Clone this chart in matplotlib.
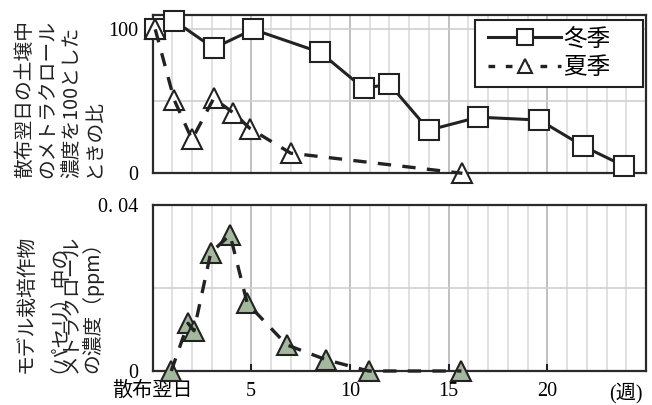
import matplotlib
matplotlib.use("Agg")
import matplotlib.pyplot as plt
from matplotlib.lines import Line2D
from matplotlib.patches import Rectangle

plt.rcParams['font.family'] = ['Noto Sans CJK JP', 'DejaVu Sans']

# ---- data ----
winter_x = [0.14, 1.1, 3.1, 5.1, 8.5, 10.7, 12.0, 14.0, 16.5, 19.6, 21.8, 23.9]
winter_y = [100, 106, 87, 100, 84, 59, 62, 30, 39, 37, 19, 5]
summer_x = [0.14, 1.1, 2.0, 3.1, 4.1, 4.95, 7.0, 15.7]
summer_y = [100, 51, 23.5, 52, 42, 31, 14, 0]
crop_x = [0.95, 1.8, 2.1, 2.95, 3.93, 4.8, 6.8, 8.8, 10.95, 15.65]
crop_y = [0.0, 0.0115, 0.0097, 0.0285, 0.0328, 0.0163, 0.0063, 0.0027, 0.0, 0.0]
xtick_pos = [0, 5, 10, 15, 20, 24]
xtick_labels = ['散布翌日', '5', '10', '15', '20', '(週)']
top_yticks = [0, 100]
top_yticklabels = ['0', '100']
bot_yticks = [0, 0.04]
bot_yticklabels = ['0', '0. 04']
legend_labels = ['冬季', '夏季']
top_ylabel_lines = ['散布翌日の土壌中', 'のメトラクロール', '濃度を100とした', 'ときの比']
bot_ylabel_lines = ['モデル栽培作物', '（パセリ）中の', 'メトラクロール', 'の濃度（ppm）']

W, H = 652, 405
fig = plt.figure(figsize=(W / 100, H / 100), dpi=100)

def rect(l, t, r, b):
    return [l / W, 1 - b / H, (r - l) / W, (b - t) / H]

ax1 = fig.add_axes(rect(152.5, 15, 646, 173.3))
ax2 = fig.add_axes(rect(152.5, 205, 646, 371))

dark = '#222222'
green = '#a3b89c'
serif = ['Liberation Serif', 'Noto Sans CJK JP']

for ax in (ax1, ax2):
    ax.set_xlim(0, 25)
    for i in range(1, 25):
        ax.axvline(i, color='#b5b5b5' if i % 5 == 0 else '#dcdcdc', lw=1.2, zorder=0)
    for s in ax.spines.values():
        s.set_linewidth(1.6)
        s.set_color('#2a2a2a')
    ax.tick_params(axis='y', length=0, pad=10, labelsize=14.5)

# top panel
ax1.set_ylim(0, 110)
ax1.axhline(50, color='#cfcfcf', lw=1.2, zorder=0)
ax1.axhline(100, color='#cfcfcf', lw=1.2, zorder=0)
ax1.set_xticks([])
ax1.set_yticks(top_yticks)
ax1.set_yticklabels(top_yticklabels, family=serif, fontsize=14.5)

ax1.plot(winter_x, winter_y, color=dark, lw=2.2, marker='s', ms=14,
         mfc='white', mec=dark, mew=1.5, zorder=3, clip_on=False)
ax1.plot(summer_x, summer_y, ls='none', marker='^', ms=14,
         mfc='white', mec=dark, mew=1.5, zorder=3, clip_on=False)
ax1.plot(summer_x, summer_y, color=dark, lw=2.4, ls=(0, (4, 3.4)), zorder=4,
         clip_on=False)

# legend: frame drawn as a rectangle, entries via legend without frame
frame = Rectangle((475 / W, 1 - 87 / H), (643 - 475) / W, (87 - 20) / H,
                  transform=fig.transFigure, facecolor='white',
                  edgecolor='#222222', lw=1.5, zorder=5)
fig.patches.append(frame)
handles = [
    Line2D([], [], color=dark, lw=2.2, marker='s', ms=11, mfc='white', mec=dark, mew=1.5),
    Line2D([], [], color=dark, lw=2.4, ls=(0, (2, 3.2)), marker='^', ms=10, mfc='white', mec=dark, mew=1.5),
]
leg = fig.legend(handles, legend_labels, loc='center left',
                 bbox_to_anchor=(488 / W, 1 - 53.5 / H), fontsize=17,
                 frameon=False, handlelength=3.1, handletextpad=0.1,
                 borderaxespad=0, labelspacing=0.25, borderpad=0)
leg.set_zorder(6)

# bottom panel
ax2.set_ylim(0, 0.04)
ax2.axhline(0.02, color='#cfcfcf', lw=1.2, zorder=0)
ax2.set_yticks(bot_yticks)
ax2.set_yticklabels(bot_yticklabels, family=serif, fontsize=14.5)
ax2.set_xticks(xtick_pos)
ax2.set_xticklabels(xtick_labels, family=serif, fontsize=14.5)
ax2.tick_params(axis='x', direction='in', length=5, width=1.5, color='#222222', pad=8)
for i, t in enumerate(ax2.xaxis.get_major_ticks()):
    if xtick_pos[i] in (0, 24):
        t.tick1line.set_visible(False)

ax2.plot(crop_x, crop_y, ls='none', marker='^', ms=14,
         mfc=green, mec=dark, mew=1.5, zorder=3, clip_on=False)
ax2.plot(crop_x, crop_y, color=dark, lw=2.4, ls=(0, (4, 3.4)), zorder=4,
         clip_on=False)

# y labels: one rotated text per column, anchored on the baseline
top_cols = [23, 46, 69, 92]
bot_cols = [24, 47, 69, 91]
base_off = 7.5
for line, cx in zip(top_ylabel_lines, top_cols):
    fig.text((cx + base_off) / W, 1 - 178 / H, line, rotation=90,
             rotation_mode='anchor', ha='left', va='baseline',
             fontsize=14.2, color='#222222')
for line, cx in zip(bot_ylabel_lines, bot_cols):
    fig.text((cx + base_off) / W, 1 - 373 / H, line, rotation=90,
             rotation_mode='anchor', ha='left', va='baseline',
             fontsize=14.2, color='#222222')

fig.savefig('out.png', dpi=100)
